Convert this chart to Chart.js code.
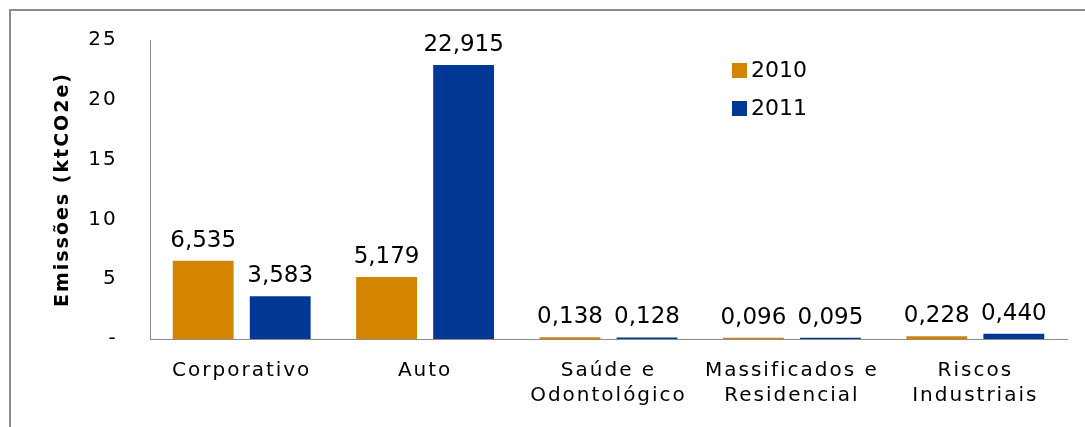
<!DOCTYPE html>
<html lang="pt">
<head>
<meta charset="UTF-8">
<title>Emissões por área</title>
<script src="https://cdn.jsdelivr.net/npm/chart.js"></script>
<style>
    html, body { margin: 0; padding: 0; background: #fff; overflow: hidden; }
    #wrap { position: relative; width: 1085px; height: 427px; }
    #frame {
        position: absolute; left: 9px; top: 9px;
        width: 1200px; height: 600px;
        border: 2px solid #8c8c8c;
        pointer-events: none;
    }
</style>
</head>
<body>
<div id="wrap">
    <canvas id="chartCanvas" width="1085" height="427"></canvas>
    <div id="frame"></div>
</div>
<script>
    const categories = [['Corporativo'], ['Auto'], ['Saúde e', 'Odontológico'], ['Massificados e', 'Residencial'], ['Riscos', 'Industriais']];
    const values2010 = [6.535, 5.179, 0.138, 0.096, 0.228];
    const values2011 = [3.583, 22.915, 0.128, 0.095, 0.440];
    const yTicks = [0, 5, 10, 15, 20, 25];

    const FONT = "'DejaVu Sans', sans-serif";

    function fmt(v) {
        return v.toFixed(3).replace('.', ',');
    }

    // wider spacing, like the original rendering
    const spacing = {
        id: 'spacing',
        beforeDraw(chart) { chart.ctx.letterSpacing = '2px'; }
    };

    // value above each bar
    const barValues = {
        id: 'barValues',
        afterDatasetsDraw(chart) {
            const ctx = chart.ctx;
            ctx.save();
            ctx.letterSpacing = '0px';
            ctx.font = '23px ' + FONT;
            ctx.fillStyle = '#000';
            ctx.textAlign = 'center';
            ctx.textBaseline = 'alphabetic';
            chart.data.datasets.forEach((ds, i) => {
                chart.getDatasetMeta(i).data.forEach((bar, j) => {
                    ctx.fillText(fmt(ds.data[j]), bar.x, bar.y - 14);
                });
            });
            ctx.restore();
        }
    };

    // legend inside the plot
    const innerLegend = {
        id: 'innerLegend',
        afterDraw(chart) {
            const ctx = chart.ctx;
            ctx.save();
            ctx.letterSpacing = '0px';
            ctx.font = '22px ' + FONT;
            ctx.textBaseline = 'middle';
            ctx.textAlign = 'left';
            chart.data.datasets.forEach((ds, i) => {
                const y = 70 + i * 38;
                ctx.fillStyle = ds.backgroundColor;
                ctx.fillRect(732, y - 7, 15, 15);
                ctx.fillStyle = '#000';
                ctx.fillText(ds.label, 751, y + 1);
            });
            ctx.restore();
        }
    };

    new Chart(document.getElementById('chartCanvas'), {
        type: 'bar',
        data: {
            labels: categories,
            datasets: [
                { label: '2010', data: values2010, backgroundColor: '#d38500' },
                { label: '2011', data: values2011, backgroundColor: '#023895' }
            ]
        },
        options: {
            responsive: false,
            animation: false,
            categoryPercentage: 0.84,
            barPercentage: 0.79,
            layout: { padding: { left: 30, top: 40, right: 18, bottom: 0 } },
            plugins: {
                legend: { display: false },
                tooltip: { enabled: false }
            },
            scales: {
                x: {
                    grid: { display: false, drawTicks: false },
                    border: { color: '#8c8c8c', width: 1 },
                    ticks: { color: '#000', font: { family: FONT, size: 20, lineHeight: 1.25 }, padding: 19, maxRotation: 0 },
                    afterFit(s) { s.height = 88; }
                },
                y: {
                    min: 0, max: 25,
                    afterBuildTicks(s) { s.ticks = yTicks.map(v => ({ value: v })); },
                    grid: { display: false, drawTicks: false },
                    border: { color: '#8c8c8c', width: 1 },
                    ticks: {
                        color: '#000', font: { family: FONT, size: 20 }, padding: 24,
                        // trailing space pushes the labels a little further left
                        callback: v => (v === 0 ? '-' : v) + ' '
                    },
                    title: {
                        display: true, text: 'Emissões (ktCO2e)', color: '#000',
                        font: { family: FONT, size: 19, weight: 'bold' }, padding: { top: 22, bottom: 0 }
                    },
                    afterFit(s) { s.width = 120; }
                }
            }
        },
        plugins: [spacing, barValues, innerLegend]
    });
</script>
</body>
</html>
